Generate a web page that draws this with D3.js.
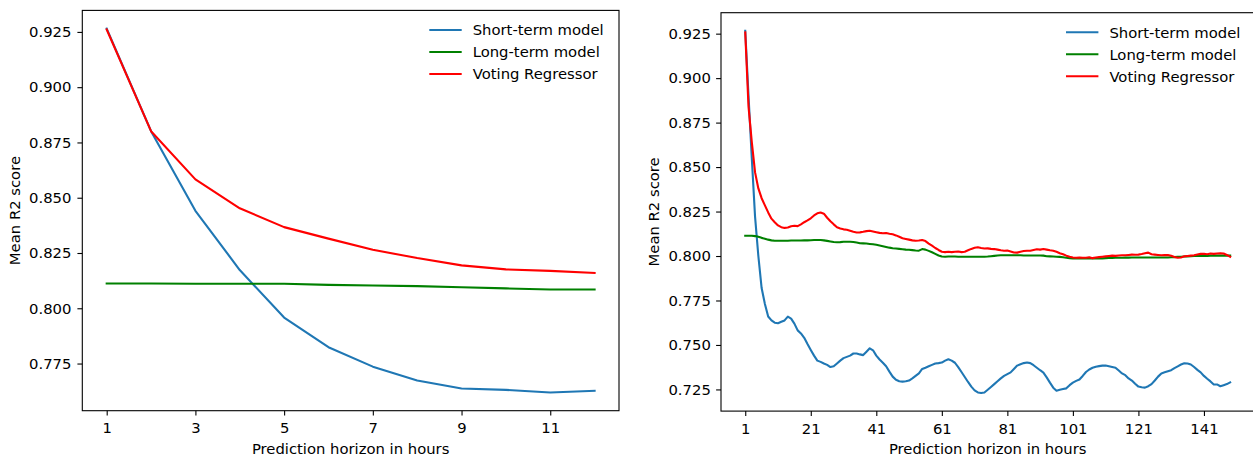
<!DOCTYPE html>
<html>
<head>
<meta charset="utf-8">
<script src="https://cdn.jsdelivr.net/npm/d3@7"></script>
<style>
  html, body { margin: 0; padding: 0; background: #fff; }
  svg { display: block; }
  text { font-family: "DejaVu Sans", sans-serif; fill: #000; }
</style>
</head>
<body>
<svg id="chart" width="1253" height="457"></svg>
<script>
// ---- data: mean R2 score per prediction horizon (hours) ----
const seriesNames = ["Short-term model", "Long-term model", "Voting Regressor"];
const seriesColors = ["#1f77b4", "#008000", "#ff0000"];

// 12-hour horizon
const hoursShort = [1, 2, 3, 4, 5, 6, 7, 8, 9, 10, 11, 12];
const shortModel12 = [0.9265, 0.8801, 0.8441, 0.8173, 0.7958, 0.7824, 0.7736, 0.7673, 0.7637, 0.7631, 0.7619, 0.7627];
const longModel12 = [0.8112, 0.8112, 0.8111, 0.8111, 0.8111, 0.8106, 0.8103, 0.8100, 0.8095, 0.8090, 0.8085, 0.8085];
const voting12 = [0.9261, 0.8801, 0.8583, 0.8452, 0.8367, 0.8315, 0.8265, 0.8227, 0.8194, 0.8176, 0.8169, 0.8160];

// 149-hour horizon (one value per hour, starting at hour 1)
const shortModel149 = [
  0.9266, 0.8900, 0.8550, 0.8220, 0.8000, 0.7820, 0.7730, 0.7660, 0.7638, 0.7625,
  0.7622, 0.7630, 0.7638, 0.7659, 0.7648, 0.7620, 0.7582, 0.7565, 0.7540, 0.7505,
  0.7472, 0.7440, 0.7412, 0.7405, 0.7396, 0.7388, 0.7376, 0.7380, 0.7396, 0.7412,
  0.7426, 0.7433, 0.7440, 0.7452, 0.7452, 0.7447, 0.7443, 0.7462, 0.7481, 0.7470,
  0.7440, 0.7418, 0.7400, 0.7380, 0.7350, 0.7322, 0.7304, 0.7296, 0.7294, 0.7296,
  0.7300, 0.7312, 0.7326, 0.7340, 0.7365, 0.7372, 0.7380, 0.7388, 0.7396, 0.7398,
  0.7401, 0.7412, 0.7420, 0.7412, 0.7400, 0.7375, 0.7348, 0.7320, 0.7292, 0.7266,
  0.7245, 0.7233, 0.7230, 0.7233, 0.7248, 0.7264, 0.7280, 0.7296, 0.7312, 0.7326,
  0.7336, 0.7346, 0.7365, 0.7384, 0.7392, 0.7398, 0.7401, 0.7398, 0.7386, 0.7372,
  0.7358, 0.7345, 0.7318, 0.7288, 0.7260, 0.7243, 0.7248, 0.7252, 0.7256, 0.7274,
  0.7288, 0.7298, 0.7306, 0.7326, 0.7348, 0.7362, 0.7372, 0.7378, 0.7381, 0.7384,
  0.7384, 0.7380, 0.7376, 0.7372, 0.7356, 0.7340, 0.7330, 0.7312, 0.7300, 0.7282,
  0.7266, 0.7262, 0.7260, 0.7268, 0.7280, 0.7300, 0.7322, 0.7340, 0.7346, 0.7352,
  0.7358, 0.7370, 0.7380, 0.7390, 0.7397, 0.7396, 0.7390, 0.7376, 0.7360, 0.7346,
  0.7326, 0.7310, 0.7295, 0.7278, 0.7278, 0.7268, 0.7274, 0.7280, 0.7290
];
const longModel149 = [
  0.8114, 0.8114, 0.8114, 0.8112, 0.8108, 0.8102, 0.8097, 0.8092, 0.8088, 0.8086,
  0.8086, 0.8086, 0.8086, 0.8086, 0.8087, 0.8087, 0.8087, 0.8087, 0.8088, 0.8088,
  0.8089, 0.8090, 0.8090, 0.8090, 0.8088, 0.8085, 0.8082, 0.8079, 0.8077, 0.8078,
  0.8080, 0.8080, 0.8080, 0.8079, 0.8076, 0.8072, 0.8071, 0.8070, 0.8068, 0.8066,
  0.8063, 0.8059, 0.8055, 0.8051, 0.8047, 0.8044, 0.8042, 0.8040, 0.8038, 0.8036,
  0.8035, 0.8033, 0.8031, 0.8030, 0.8039, 0.8036, 0.8029, 0.8021, 0.8012, 0.8003,
  0.7997, 0.7996, 0.7997, 0.7997, 0.7997, 0.7996, 0.7996, 0.7996, 0.7996, 0.7996,
  0.7996, 0.7996, 0.7996, 0.7996, 0.7997, 0.7999, 0.8001, 0.8003, 0.8004, 0.8004,
  0.8004, 0.8004, 0.8004, 0.8004, 0.8004, 0.8003, 0.8003, 0.8003, 0.8003, 0.8003,
  0.8003, 0.8002, 0.7999, 0.7998, 0.7997, 0.7996, 0.7995, 0.7993, 0.7990, 0.7988,
  0.7987, 0.7987, 0.7987, 0.7987, 0.7987, 0.7987, 0.7987, 0.7987, 0.7987, 0.7987,
  0.7988, 0.7989, 0.7989, 0.7990, 0.7990, 0.7990, 0.7991, 0.7991, 0.7992, 0.7992,
  0.7992, 0.7992, 0.7992, 0.7992, 0.7992, 0.7992, 0.7992, 0.7992, 0.7992, 0.7992,
  0.7993, 0.7994, 0.7995, 0.7996, 0.7997, 0.7998, 0.7999, 0.8000, 0.8000, 0.8001,
  0.8001, 0.8001, 0.8002, 0.8002, 0.8002, 0.8002, 0.8002, 0.8002, 0.8002
];
const voting149 = [
  0.9257, 0.8840, 0.8640, 0.8470, 0.8380, 0.8325, 0.8285, 0.8245, 0.8210, 0.8190,
  0.8172, 0.8162, 0.8158, 0.8160, 0.8167, 0.8170, 0.8168, 0.8178, 0.8190, 0.8200,
  0.8212, 0.8228, 0.8240, 0.8245, 0.8238, 0.8215, 0.8195, 0.8178, 0.8162, 0.8155,
  0.8150, 0.8148, 0.8142, 0.8136, 0.8132, 0.8133, 0.8136, 0.8140, 0.8142, 0.8138,
  0.8134, 0.8130, 0.8128, 0.8129, 0.8125, 0.8122, 0.8116, 0.8108, 0.8100, 0.8096,
  0.8092, 0.8088, 0.8086, 0.8087, 0.8090, 0.8084, 0.8070, 0.8058, 0.8045, 0.8034,
  0.8024, 0.8022, 0.8024, 0.8022, 0.8024, 0.8025, 0.8022, 0.8024, 0.8032, 0.8040,
  0.8046, 0.8049, 0.8045, 0.8042, 0.8043, 0.8040, 0.8039, 0.8036, 0.8032, 0.8030,
  0.8031, 0.8026, 0.8020, 0.8019, 0.8024, 0.8028, 0.8030, 0.8030, 0.8034, 0.8038,
  0.8036, 0.8039, 0.8036, 0.8032, 0.8030, 0.8024, 0.8016, 0.8010, 0.8002, 0.7996,
  0.7992, 0.7990, 0.7991, 0.7990, 0.7990, 0.7993, 0.7988, 0.7992, 0.7994, 0.7996,
  0.7998, 0.8000, 0.8002, 0.8001, 0.8003, 0.8004, 0.8004, 0.8006, 0.8008, 0.8007,
  0.8008, 0.8011, 0.8015, 0.8019, 0.8010, 0.8008, 0.8006, 0.8004, 0.8005, 0.8006,
  0.8002, 0.7995, 0.7990, 0.7992, 0.7998, 0.8000, 0.8002, 0.8004, 0.8008, 0.8012,
  0.8013, 0.8010, 0.8014, 0.8012, 0.8014, 0.8016, 0.8014, 0.8006, 0.7996
];
const hoursLong = d3.range(1, shortModel149.length + 1);

// tick labels
const xTicksShort = [1, 3, 5, 7, 9, 11];
const xTicksLong = [1, 21, 41, 61, 81, 101, 121, 141];
const yTicksShort = [0.775, 0.800, 0.825, 0.850, 0.875, 0.900, 0.925];
const yTicksLong = [0.725, 0.750, 0.775, 0.800, 0.825, 0.850, 0.875, 0.900, 0.925];

const xLabel = "Prediction horizon in hours";
const yLabel = "Mean R2 score";

// ---- drawing ----
const svg = d3.select("#chart");
const FONT = 14.8;

// extent with 5% padding on each side
function padded(values) {
  const [lo, hi] = d3.extent(values);
  const m = (hi - lo) * 0.05;
  return [lo - m, hi + m];
}

function panel(cfg) {
  const { left, right, top, bottom, hours, series, xTicks, yTicks, legend, yLabelX, yPad } = cfg;
  const g = svg.append("g");

  const x = d3.scaleLinear().domain(padded(hours)).range([left, right]);
  const y = d3.scaleLinear().domain(padded(series.flat())).range([bottom, top]);

  const line = d3.line()
    .x((d, i) => x(hours[i]))
    .y(d => y(d));

  series.forEach((vals, k) => {
    g.append("path")
      .datum(vals)
      .attr("d", line)
      .attr("fill", "none")
      .attr("stroke", seriesColors[k])
      .attr("stroke-width", 2.1)
      .attr("stroke-linejoin", "round")
      .attr("stroke-linecap", "square");
  });

  // axes
  const xAxis = d3.axisBottom(x).tickValues(xTicks).tickFormat(d3.format("d"))
    .tickSize(4.9).tickSizeOuter(0).tickPadding(7);
  const yAxis = d3.axisLeft(y).tickValues(yTicks).tickFormat(d3.format(".3f"))
    .tickSize(4.9).tickSizeOuter(0).tickPadding(yPad);

  const gx = g.append("g").attr("transform", `translate(0,${bottom})`).call(xAxis);
  const gy = g.append("g").attr("transform", `translate(${left},0)`).call(yAxis);
  [gx, gy].forEach(a => {
    a.select(".domain").remove();
    a.selectAll(".tick line").attr("stroke", "#000").attr("stroke-width", 1.1);
    a.selectAll(".tick text")
      .attr("font-family", "DejaVu Sans, sans-serif")
      .attr("font-size", FONT)
      .attr("fill", "#000");
  });

  // frame
  g.append("rect")
    .attr("x", left).attr("y", top)
    .attr("width", right - left).attr("height", bottom - top)
    .attr("fill", "none").attr("stroke", "#000").attr("stroke-width", 1.1);

  // axis titles
  g.append("text")
    .attr("x", (left + right) / 2).attr("y", bottom + 43)
    .attr("text-anchor", "middle").attr("font-size", FONT)
    .text(xLabel);
  g.append("text")
    .attr("transform", `translate(${yLabelX},${(top + bottom) / 2}) rotate(-90)`)
    .attr("text-anchor", "middle").attr("font-size", FONT)
    .text(yLabel);

  // legend
  seriesNames.forEach((name, k) => {
    const ly = legend.y + k * 22;
    g.append("line")
      .attr("x1", legend.x).attr("x2", legend.x + 32.4)
      .attr("y1", ly).attr("y2", ly)
      .attr("stroke", seriesColors[k]).attr("stroke-width", 2.1);
    g.append("text")
      .attr("x", legend.x + 43.4).attr("y", ly)
      .attr("dy", "0.36em").attr("font-size", FONT)
      .text(name);
  });
}

panel({
  left: 82.3, right: 619, top: 10.4, bottom: 410.7,
  hours: hoursShort,
  series: [shortModel12, longModel12, voting12],
  xTicks: xTicksShort, yTicks: yTicksShort,
  legend: { x: 429.3, y: 30 },
  yLabelX: 20, yPad: 6
});

panel({
  left: 721, right: 1254.4, top: 12.7, bottom: 411.1,
  hours: hoursLong,
  series: [shortModel149, longModel149, voting149],
  xTicks: xTicksLong, yTicks: yTicksLong,
  legend: { x: 1066, y: 32.3 },
  yLabelX: 659, yPad: 5.3
});
</script>
</body>
</html>
